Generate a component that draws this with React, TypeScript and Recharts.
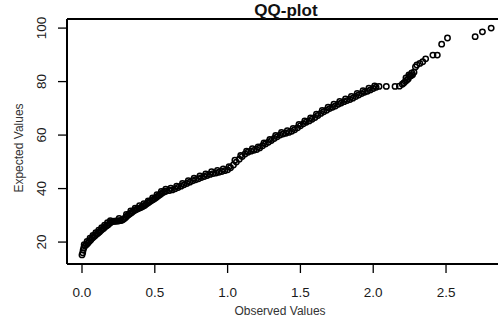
import { ScatterChart, Scatter, XAxis, YAxis, ReferenceLine } from 'recharts';

const observed = [
  0.0, 0.005, 0.008, 0.012, 0.02, 0.03, 0.04, 0.05, 0.06, 0.07, 0.08, 0.09, 0.1, 0.11, 0.12, 0.13, 0.14, 0.15, 0.16, 0.17,
  0.18, 0.19, 0.2, 0.21, 0.22, 0.23, 0.24, 0.25, 0.26, 0.27, 0.28, 0.29, 0.3, 0.31, 0.32, 0.33, 0.34, 0.35, 0.36, 0.37,
  0.38, 0.39, 0.4, 0.41, 0.42, 0.43, 0.44, 0.45, 0.46, 0.47, 0.48, 0.49, 0.5, 0.51, 0.52, 0.53, 0.54, 0.55, 0.56, 0.57,
  0.58, 0.6, 0.62, 0.64, 0.66, 0.68, 0.7, 0.72, 0.74, 0.76, 0.78, 0.8, 0.82, 0.84, 0.86, 0.88, 0.9, 0.92, 0.94, 0.96,
  0.98, 1.0, 1.02, 1.04, 1.06, 1.08, 1.1, 1.12, 1.14, 1.16, 1.18, 1.2, 1.22, 1.24, 1.26, 1.28, 1.3, 1.32, 1.34, 1.36,
  1.38, 1.4, 1.42, 1.44, 1.46, 1.48, 1.5, 1.52, 1.54, 1.56, 1.58, 1.6, 1.62, 1.64, 1.66, 1.68, 1.7, 1.72, 1.74, 1.76,
  1.78, 1.8, 1.82, 1.84, 1.86, 1.88, 1.9, 1.92, 1.94, 1.96, 1.98, 2.0, 2.02, 2.04, 2.09, 2.15, 2.18, 2.2, 2.21, 2.22,
  2.23, 2.24, 2.25, 2.26, 2.27, 2.28, 2.29, 2.3, 2.32, 2.34, 2.36, 2.41, 2.44, 2.47, 2.51, 2.7, 2.75, 2.81,
];
const expected = [
  15.2, 16.0, 17.0, 17.8, 18.5, 19.0, 19.6, 20.2, 20.8, 21.4, 21.9, 22.4, 22.9, 23.3, 23.8, 24.3, 24.8, 25.2, 25.7, 26.1,
  26.5, 27.0, 27.4, 27.7, 27.8, 27.8, 27.9, 27.9, 28.0, 28.1, 28.3, 28.7, 29.2, 29.7, 30.2, 30.6, 31.0, 31.4, 31.8, 32.1,
  32.4, 32.6, 32.8, 33.1, 33.4, 33.7, 34.1, 34.5, 34.9, 35.3, 35.6, 35.9, 36.3, 36.7, 37.1, 37.5, 37.9, 38.3, 38.6, 38.9,
  39.1, 39.3, 39.5, 39.9, 40.4, 40.9, 41.4, 41.9, 42.4, 42.9, 43.3, 43.7, 44.1, 44.5, 44.9, 45.3, 45.6, 45.8, 46.1, 46.4,
  46.7, 47.0, 47.8, 48.8, 49.9, 51.0, 52.0, 52.9, 53.6, 54.0, 54.3, 54.6, 55.2, 56.0, 56.7, 57.3, 58.0, 58.7, 59.4, 60.0,
  60.4, 60.7, 61.0, 61.4, 62.0, 62.7, 63.5, 64.2, 64.8, 65.3, 65.9, 66.6, 67.3, 68.1, 68.7, 69.3, 69.9, 70.4, 70.9, 71.5,
  72.0, 72.5, 72.9, 73.3, 73.8, 74.4, 75.0, 75.5, 76.0, 76.4, 76.9, 77.4, 77.9, 78.2, 78.2, 78.2, 78.3, 79.0, 79.5, 80.0,
  80.5, 81.0, 82.0, 82.2, 82.6, 83.5, 85.5, 86.2, 86.8, 87.4, 88.5, 89.9, 89.9, 94.0, 96.3, 96.8, 98.6, 100.0,
];
// points on the upper edge of the dense band (ties / jitter in the sample)
const observedUpper = [
  0.015, 0.035, 0.055, 0.075, 0.095, 0.115, 0.135, 0.155, 0.175, 0.195, 0.255, 0.305, 0.335, 0.365, 0.395, 0.425, 0.455,
  0.485, 0.515, 0.545, 0.575, 0.61, 0.65, 0.69, 0.73, 0.77, 0.81, 0.85, 0.89, 0.93, 0.97, 1.01, 1.05, 1.09, 1.13, 1.17,
  1.21, 1.25, 1.29, 1.33, 1.37, 1.41, 1.45, 1.49, 1.53, 1.57, 1.61, 1.65, 1.69, 1.73, 1.77, 1.81, 1.85, 1.89, 1.93, 1.97,
  2.01, 2.225, 2.245, 2.265,
];
const expectedUpper = [
  19.0, 20.2, 21.4, 22.5, 23.5, 24.4, 25.4, 26.3, 27.2, 28.0, 28.8, 30.3, 31.6, 32.7, 33.6, 34.3, 35.4, 36.5, 37.7, 38.9,
  39.8, 40.1, 40.9, 41.9, 42.9, 43.9, 44.7, 45.5, 46.3, 46.8, 47.3, 48.2, 50.6, 52.4, 54.0, 54.9, 55.6, 57.1, 58.4, 59.9,
  61.0, 61.6, 62.5, 64.0, 65.3, 66.4, 67.8, 69.2, 70.4, 71.5, 72.6, 73.5, 74.4, 75.6, 76.6, 77.5, 78.4, 81.4, 82.5, 83.2,
];
const xTicks = [0, 0.5, 1, 1.5, 2, 2.5];
const yTicks = [20, 40, 60, 80, 100];

const xDomain = [-0.103, 2.905];
const yDomain = [11.8, 103.4];

const points = observed.map((x, i) => ({ x, y: expected[i] }));
const upperPoints = observedUpper.map((x, i) => ({ x, y: expectedUpper[i] }));

const font = '"Liberation Sans", Arial, sans-serif';

const Ring = (props: any) => (
  <circle cx={props.cx} cy={props.cy} r={2.7} fill="none" stroke="#000" strokeWidth={1.5} />
);

// R draws y tick labels parallel to the axis
const YTick = (props: any) => {
  const { y, payload } = props;
  const x = 46.5;
  return (
    <text x={x} y={y} transform={`rotate(-90, ${x}, ${y})`} textAnchor="middle"
      fontSize={13.5} fontFamily={font} fill="#1a1a1a">
      {payload.value}
    </text>
  );
};

export default function App() {
  return (
    <div style={{ position: 'absolute', left: 0, top: 0, width: 498, height: 327, overflow: 'hidden', background: '#fff' }}>
      <ScatterChart width={510} height={327} margin={{ top: 19, right: 5, bottom: 0, left: 0 }}>
        <XAxis
          type="number"
          dataKey="x"
          domain={xDomain}
          ticks={xTicks}
          allowDataOverflow
          height={63}
          tickSize={9}
          tickMargin={14}
          tickFormatter={(v: number) => v.toFixed(1)}
          stroke="#000"
          axisLine={{ stroke: '#000', strokeWidth: 2 }}
          tickLine={{ stroke: '#000', strokeWidth: 1.3 }}
          tick={{ fill: '#1a1a1a', fontSize: 13.5, fontFamily: font }}
        />
        <YAxis
          type="number"
          dataKey="y"
          domain={yDomain}
          ticks={yTicks}
          allowDataOverflow
          width={67}
          tickSize={9}
          axisLine={{ stroke: '#000', strokeWidth: 2 }}
          tickLine={{ stroke: '#000', strokeWidth: 1.3 }}
          tick={<YTick />}
        />
        <ReferenceLine y={yDomain[1]} stroke="#000" strokeWidth={2} />
        <ReferenceLine x={xDomain[1]} stroke="#000" strokeWidth={2} />
        <Scatter data={points} shape={<Ring />} isAnimationActive={false} />
        <Scatter data={upperPoints} shape={<Ring />} isAnimationActive={false} />
      </ScatterChart>
      <div style={{ position: 'absolute', left: 236, top: 1, width: 100, textAlign: 'center', fontFamily: font, fontWeight: 'bold', fontSize: 17, lineHeight: '20px', color: '#111' }}>
        QQ-plot
      </div>
      <div style={{ position: 'absolute', left: 220, top: 304, width: 120, textAlign: 'center', fontFamily: font, fontSize: 12, lineHeight: '14px', color: '#333' }}>
        Observed Values
      </div>
      <div style={{ position: 'absolute', left: 19 - 60, top: 148 - 7, width: 120, textAlign: 'center', fontFamily: font, fontSize: 12, lineHeight: '14px', color: '#333', transform: 'rotate(-90deg)' }}>
        Expected Values
      </div>
    </div>
  );
}
